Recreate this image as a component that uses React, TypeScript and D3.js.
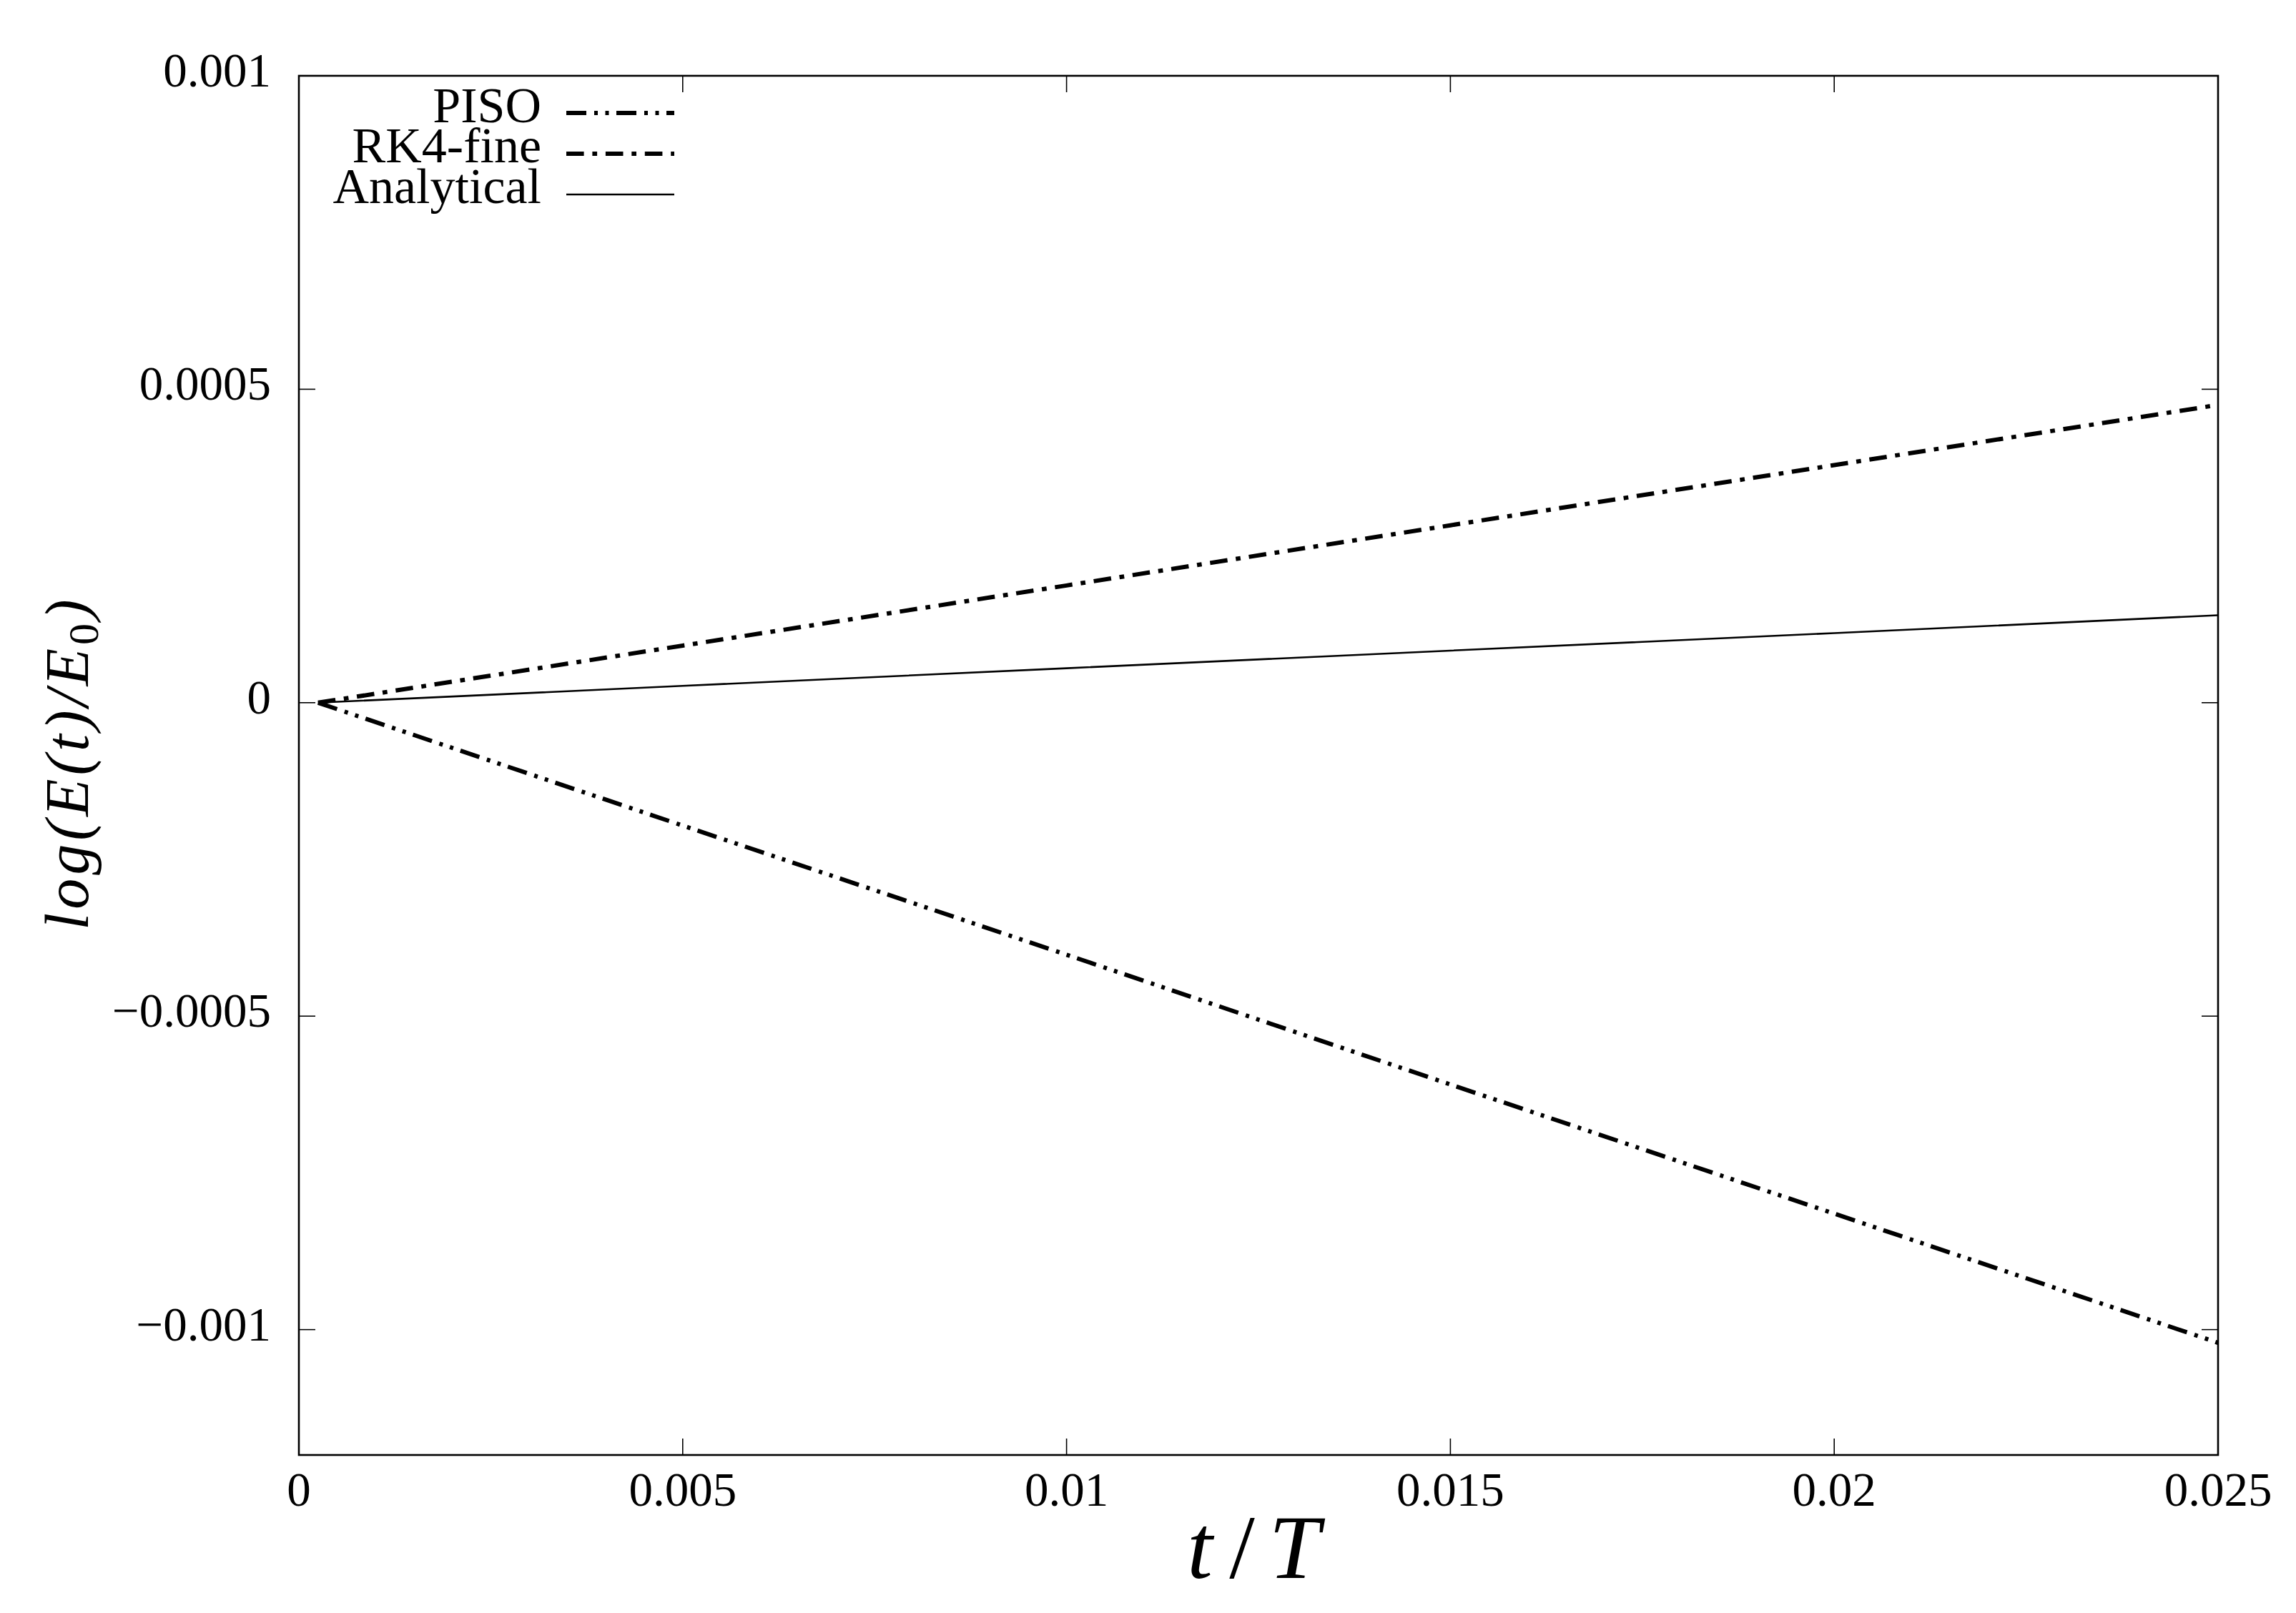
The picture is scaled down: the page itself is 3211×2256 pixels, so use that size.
import React from "react";
import * as d3 from "d3";

const tValues = [0.00025, 0.005, 0.01, 0.015, 0.02, 0.025];
const pisoValues = [0, -0.000196, -0.000402, -0.000609, -0.000815, -0.001021];
const rk4Values = [0, 0.0000911, 0.000187, 0.000283, 0.000379, 0.000475];
const analyticalValues = [0, 0.0000268, 0.000055, 0.0000831, 0.000111, 0.0001395];

const xTicks = [0, 0.005, 0.01, 0.015, 0.02, 0.025];
const xTickLabels = ["0", "0.005", "0.01", "0.015", "0.02", "0.025"];
const yTicks = [0.001, 0.0005, 0, -0.0005, -0.001];
const yTickLabels = ["0.001", "0.0005", "0", "\u22120.0005", "\u22120.001"];

const seriesNames = ["PISO", "RK4-fine", "Analytical"];

const W = 3211;
const H = 2256;
const left = 418;
const right = 3102;
const top = 106;
const bottom = 2035;

const FONT = "'Liberation Serif', 'Times New Roman', serif";

export default function App() {
  const x = d3.scaleLinear().domain([0, 0.025]).range([left, right]);
  const y = d3.scaleLinear().domain([-0.0012, 0.001]).range([bottom, top]);

  const mk = (vals: number[]) =>
    d3
      .line<number>()
      .x((_, i) => x(tValues[i]))
      .y((v) => y(v))(vals) as string;

  const series = [
    { name: seriesNames[0], vals: pisoValues, dash: "28 11 5 10.5 5 10.5", width: 6 },
    { name: seriesNames[1], vals: rk4Values, dash: "24.6 11.8 6.7 11.8", width: 6 },
    { name: seriesNames[2], vals: analyticalValues, dash: "", width: 2.6 },
  ];

  const tickLen = 23;
  const legendY = [158, 215, 272];
  const legendTextY = [171, 227, 284];

  return (
    <svg
      width={W}
      height={H}
      style={{ position: "absolute", left: 0, top: 0, background: "#fff" }}
      fontFamily={FONT}
    >
      <rect x={0} y={0} width={W} height={H} fill="#fff" />
      {/* ticks */}
      {xTicks.map((t, i) => (
        <g key={"xt" + i}>
          <line x1={x(t)} x2={x(t)} y1={bottom} y2={bottom - tickLen} stroke="#000" strokeWidth={1.6} />
          <line x1={x(t)} x2={x(t)} y1={top} y2={top + tickLen} stroke="#000" strokeWidth={1.6} />
          <text x={x(t)} y={2106} fontSize={67} textAnchor="middle" fill="#000">
            {xTickLabels[i]}
          </text>
        </g>
      ))}
      {yTicks.map((v, i) => (
        <g key={"yt" + i}>
          <line x1={left} x2={left + tickLen} y1={y(v)} y2={y(v)} stroke="#000" strokeWidth={1.6} />
          <line x1={right} x2={right - tickLen} y1={y(v)} y2={y(v)} stroke="#000" strokeWidth={1.6} />
          <text x={379} y={y(v) + 15} fontSize={67} textAnchor="end" fill="#000">
            {yTickLabels[i]}
          </text>
        </g>
      ))}
      {/* series */}
      {series.map((s) => (
        <path
          key={s.name}
          d={mk(s.vals)}
          fill="none"
          stroke="#000"
          strokeWidth={s.width}
          strokeDasharray={s.dash || undefined}
          strokeLinecap="butt"
        />
      ))}
      {/* frame */}
      <rect x={left} y={top} width={right - left} height={bottom - top} fill="none" stroke="#000" strokeWidth={2.6} />
      {/* legend */}
      {series.map((s, i) => (
        <g key={"lg" + i}>
          <text x={757} y={legendTextY[i]} fontSize={70} textAnchor="end" fill="#000">
            {s.name}
          </text>
          <line
            x1={792}
            x2={943}
            y1={legendY[i]}
            y2={legendY[i]}
            stroke="#000"
            strokeWidth={s.width}
            strokeDasharray={s.dash || undefined}
          />
        </g>
      ))}
      {/* x label */}
      <g fontStyle="italic" fontSize={128} fill="#000">
        <text x={1678} y={2207} textAnchor="middle">t</text>
        <text x={1737} y={2207} textAnchor="middle" fontStyle="normal">/</text>
        <text x={1810} y={2207} textAnchor="middle">T</text>
      </g>
      {/* y label */}
      <text
        transform="translate(123,1067) rotate(-90)"
        textAnchor="middle"
        fontStyle="italic"
        fontSize={86}
        letterSpacing={5}
        fill="#000"
      >
        log(E(t)/E
        <tspan fontSize={60} dy={14} fontStyle="normal">0</tspan>
        <tspan dy={-14}>)</tspan>
      </text>
    </svg>
  );
}
